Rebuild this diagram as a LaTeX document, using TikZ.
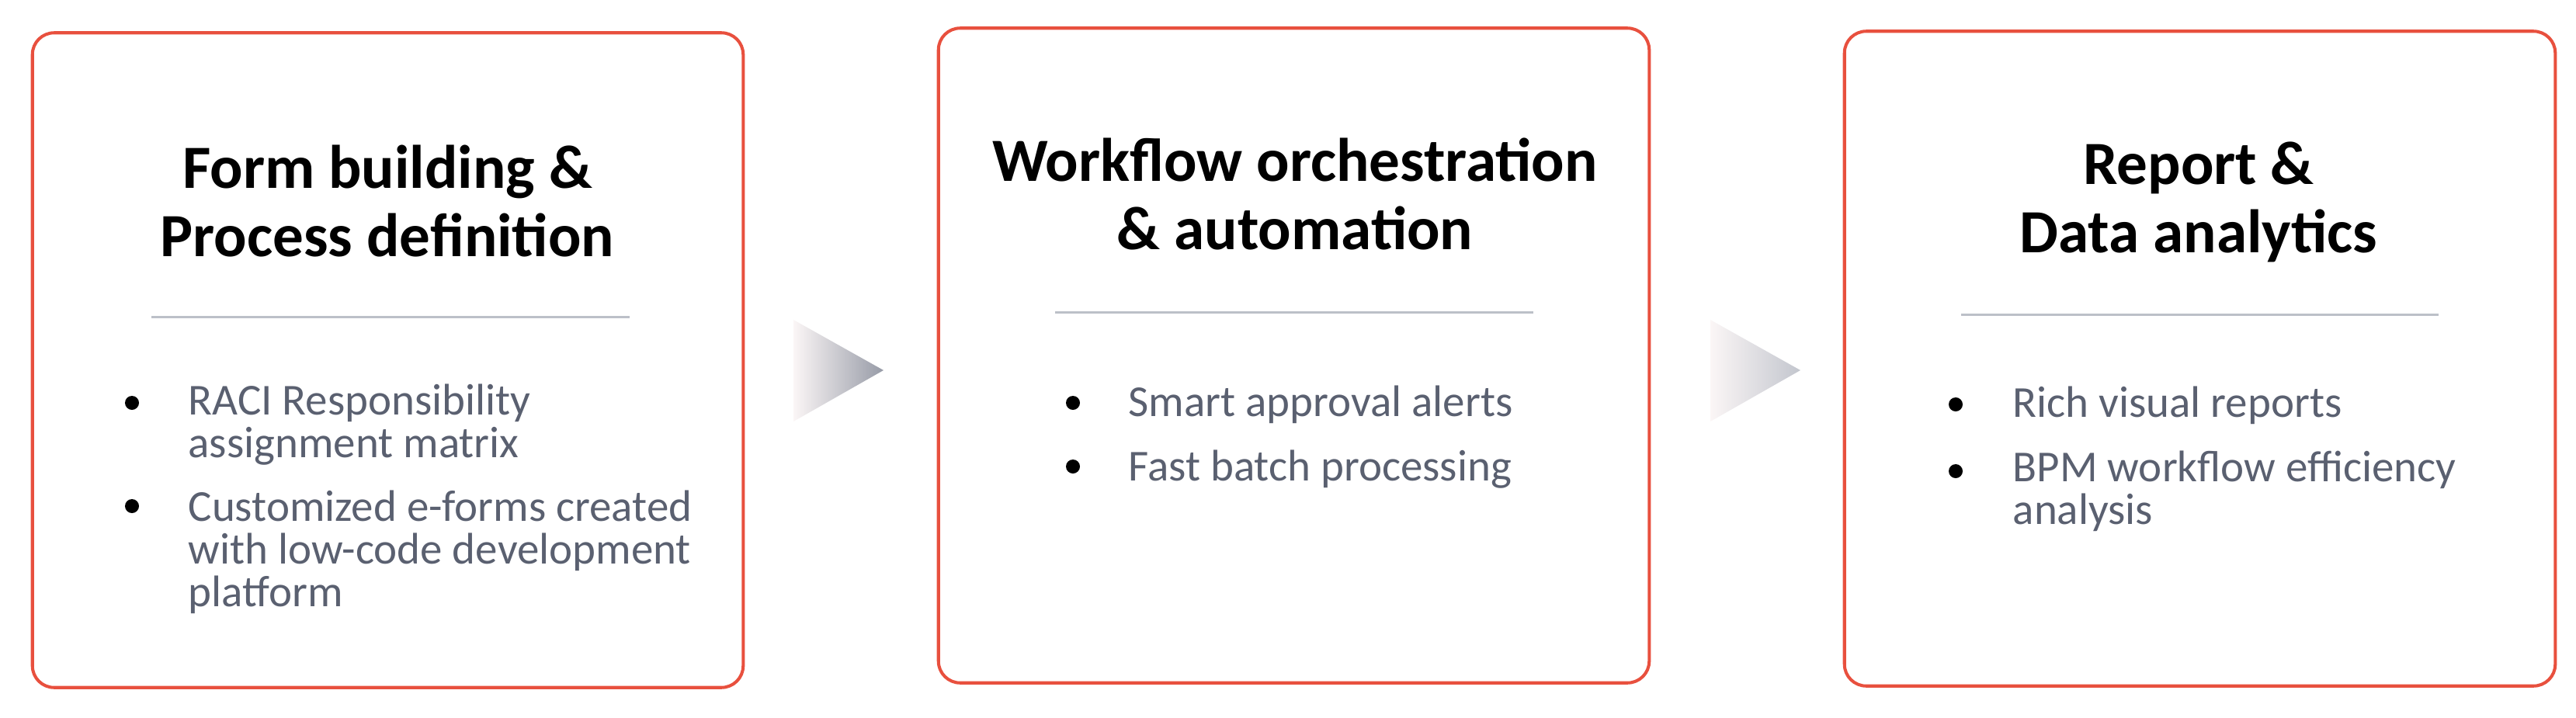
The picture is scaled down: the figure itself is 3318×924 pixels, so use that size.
\documentclass[tikz,border=0pt]{standalone}
\usepackage{fontspec}
\setmainfont{Carlito}
\usetikzlibrary{calc}

\definecolor{boxred}{HTML}{E8503E}
\definecolor{itemgray}{HTML}{5A6070}
\definecolor{rulegray}{HTML}{BCC0C8}
\definecolor{fadelight}{HTML}{FBF6F6}
\definecolor{fadedark}{HTML}{979BA7}
\definecolor{fademid}{HTML}{C3C6CE}

\tikzset{
  card/.style={draw=boxred, line width=1.15pt, rounded corners=0.28cm,
    minimum width=9.15cm, minimum height=8.43cm, outer sep=0pt},
  heading/.style={font=\bfseries\fontsize{22.5}{25}\selectfont, align=center, inner sep=0pt},
  item/.style={font=\fontsize{16.2}{15.6}\selectfont, text=itemgray, align=left,
    inner sep=0pt, anchor=base west},
  dot/.style={circle, fill=black, inner sep=0pt, minimum size=0.18cm},
  sep/.style={draw=rulegray, line width=0.85pt}
}

\begin{document}
\begin{tikzpicture}[x=0.01cm, y=-0.01cm]
\useasboundingbox (0,0) rectangle (3318,924);

% the three cards
\node[card] (b1) at (499.5,464) {};
\node[card] (b2) at (1666.5,458) {};
\node[card] (b3) at (2833.5,462) {};

% headings (base = last line)
\node[heading, anchor=base] (t1) at (499,330) {Form building \&\\Process definition};
\node[heading, anchor=base] (t2) at (1668,321) {Workflow orchestration\\\& automation};
\node[heading, anchor=base] (t3) at (2832,325) {Report \&\\Data analytics};

% rules under the headings
\draw[sep] (195,408) -- (811,408);
\draw[sep] (1359,402) -- (1975,402);
\draw[sep] (2526,405) -- (3141,405);

% card 1 items
\node[dot] (d11) at (170,519) {};
\node[item] (i11) at (242,589) {RACI Responsibility\\assignment matrix};
\node[dot] (d12) at (170,652) {};
\node[item] (i12) at (242,781) {Customized e-forms created\\with low-code development\\platform};

% card 2 items
\node[dot] (d21) at (1382,519) {};
\node[item] (i21) at (1453,536) {Smart approval alerts};
\node[dot] (d22) at (1382,601) {};
\node[item] (i22) at (1453,619) {Fast batch processing};

% card 3 items
\node[dot] (d31) at (2519,521) {};
\node[item] (i31) at (2592,537) {Rich visual reports};
\node[dot] (d32) at (2519,607) {};
\node[item] (i32) at (2592,675) {BPM workflow efficiency\\analysis};

% fading arrows between the cards
\coordinate (m1) at ($(b1.east)!0.5!(b2.west)+(-3,16)$);
\coordinate (m2) at ($(b2.east)!0.5!(b3.west)+(11,17)$);
\shade[left color=fadelight, right color=fadedark] ($(m1)+(-58,-65)$) -- ($(m1)+(58,0)$) -- ($(m1)+(-58,66)$) -- cycle;
\shade[left color=fadelight, right color=fademid] ($(m2)+(-58,-65)$) -- ($(m2)+(58,0)$) -- ($(m2)+(-58,66)$) -- cycle;
\end{tikzpicture}
\end{document}
